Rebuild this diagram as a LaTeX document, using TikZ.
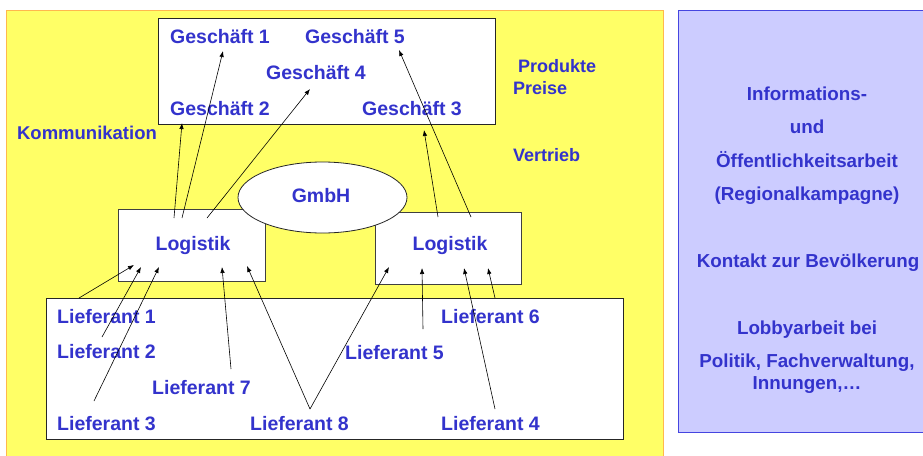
\documentclass[tikz,border=0pt]{standalone}
\usepackage{fontspec}
\setmainfont{Liberation Sans}
\usetikzlibrary{arrows.meta,shapes.geometric}
\definecolor{txtblue}{HTML}{3333CC}
\definecolor{bgyellow}{HTML}{FFFF66}
\definecolor{bgorange}{HTML}{FFB84D}
\definecolor{bgpurple}{HTML}{CCCCFF}
\definecolor{purpleedge}{HTML}{4545E0}
\begin{document}
\begin{tikzpicture}[x=1pt,y=-1pt,
  lbl/.style={text=txtblue,font=\fontsize{19.5}{22}\selectfont\bfseries,inner sep=0pt,text height=14pt,text depth=0pt},
  side/.style={text=txtblue,font=\fontsize{18}{21}\selectfont\bfseries,inner sep=0pt,text height=13pt,text depth=0pt,anchor=west},
  panel/.style={text=txtblue,font=\fontsize{18.8}{21}\selectfont\bfseries,inner sep=0pt,text height=13.5pt,text depth=0pt},
  box/.style={draw=black!85,fill=white,line width=0.8pt,inner sep=0pt},
  arr/.style={-{Latex[length=6pt,width=4.5pt]},line width=0.6pt}]
\useasboundingbox (0,0) rectangle (923,455);
% backgrounds
\fill[bgyellow] (6,10) rectangle (663,460);
\draw[bgorange,line width=0.8pt] (6,460) -- (6,10) -- (663,10) -- (663,460);
\fill[bgpurple] (678,10) rectangle (930,432);
\draw[purpleedge,line width=0.8pt] (930,10) -- (678,10) -- (678,432) -- (930,432);
% boxes
\node[box,minimum width=337pt,minimum height=106pt] (shops) at (326.5,71) {};
\node[box,draw=black!75,minimum width=147pt,minimum height=72pt] (logL) at (191.5,245) {};
\node[box,draw=black!75,minimum width=146pt,minimum height=72pt] (logR) at (448,248) {};
\node[box,ellipse,minimum width=169pt,minimum height=71pt] (gmbh) at (322.5,197.5) {};
\node[box,minimum width=577pt,minimum height=141pt] (suppl) at (334.5,368.5) {};
% texts
\node[lbl] (g1) at (220,36) {Geschäft 1};
\node[lbl] (g5) at (355,36) {Geschäft 5};
\node[lbl] (g4) at (316,72) {Geschäft 4};
\node[lbl] (g2) at (220,108) {Geschäft 2};
\node[lbl] (g3) at (412,108) {Geschäft 3};
\node[lbl] (gt) at (321,195) {GmbH};
\node[lbl] (lt1) at (193,243) {Logistik};
\node[lbl] (lt2) at (450,243) {Logistik};
\node[lbl,anchor=west] (l1) at (57,316) {Lieferant 1};
\node[lbl,anchor=west] (l2) at (57,351) {Lieferant 2};
\node[lbl,anchor=west] (l7) at (152,387) {Lieferant 7};
\node[lbl,anchor=west] (l3) at (57,423) {Lieferant 3};
\node[lbl,anchor=west] (l8) at (250,423) {Lieferant 8};
\node[lbl,anchor=west] (l5) at (345,352) {Lieferant 5};
\node[lbl,anchor=west] (l6) at (441,316) {Lieferant 6};
\node[lbl,anchor=west] (l4) at (441,423) {Lieferant 4};
\node[side,font=\fontsize{18.5}{21}\selectfont\bfseries,text height=13pt,anchor=center] (komm) at (87,133) {Kommunikation};
\node[side] (prod) at (518,66) {Produkte};
\node[side] (preis) at (513,88) {Preise};
\node[side] (vert) at (513,155) {Vertrieb};
\node[panel] (p1) at (807,94) {Informations-};
\node[panel] (p2) at (807,127) {und};
\node[panel] (p3) at (807,161) {Öffentlichkeitsarbeit};
\node[panel] (p4) at (807,194) {(Regionalkampagne)};
\node[panel] (p5) at (808,261) {Kontakt zur Bevölkerung};
\node[panel] (p6) at (807,328) {Lobbyarbeit bei};
\node[panel] (p7) at (807,361) {Politik, Fachverwaltung,};
\node[panel] (p8) at (807,383) {Innungen,…};
% arrow end points
\coordinate (a1s) at (174,218); \coordinate (a1e) at (182,123);
\coordinate (a2s) at (182,218); \coordinate (a2e) at (223,51);
\coordinate (a3s) at (207,218); \coordinate (a3e) at (310,89);
\coordinate (a4s) at (438,217); \coordinate (a4e) at (424,130);
\coordinate (a5s) at (471,217); \coordinate (a5e) at (399,50);
\coordinate (b1s) at (79,298);  \coordinate (b1e) at (134,265);
\coordinate (b2s) at (102,337); \coordinate (b2e) at (141,267);
\coordinate (b3s) at (94,401);  \coordinate (b3e) at (159,267);
\coordinate (b7s) at (231,369); \coordinate (b7e) at (222,267);
\coordinate (b8s) at (310,409); \coordinate (b8e) at (247,266);
\coordinate (b8f) at (389,267);
\coordinate (b5s) at (423,329); \coordinate (b5e) at (422,268);
\coordinate (b4s) at (495,409); \coordinate (b4e) at (464,268);
\coordinate (b6s) at (495,298); \coordinate (b6e) at (488,268);
% arrows
\draw[arr] (a1s) -- (a1e);
\draw[arr] (a2s) -- (a2e);
\draw[arr] (a3s) -- (a3e);
\draw[arr] (a4s) -- (a4e);
\draw[arr] (a5s) -- (a5e);
\draw[arr] (b1s) -- (b1e);
\draw[arr] (b2s) -- (b2e);
\draw[arr] (b3s) -- (b3e);
\draw[arr] (b7s) -- (b7e);
\draw[arr] (b8s) -- (b8e);
\draw[arr] (b8s) -- (b8f);
\draw[arr] (b5s) -- (b5e);
\draw[arr] (b4s) -- (b4e);
\draw[arr] (b6s) -- (b6e);
\end{tikzpicture}
\end{document}
